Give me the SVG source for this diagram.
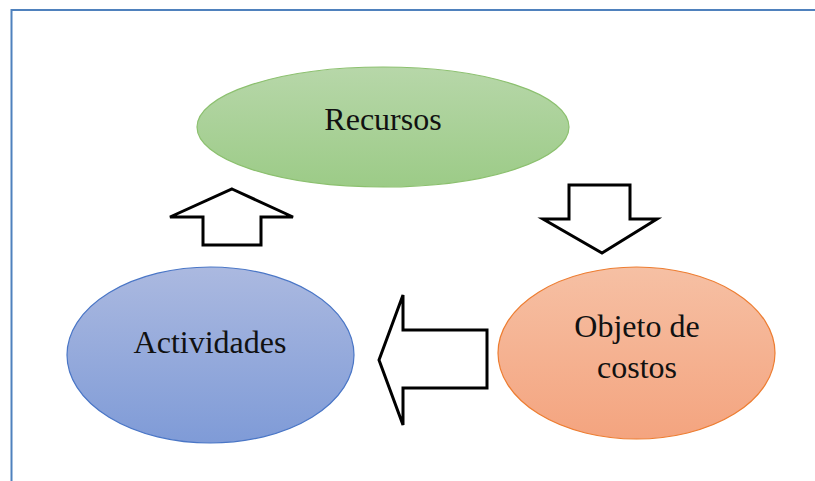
<svg xmlns="http://www.w3.org/2000/svg" width="815" height="481" viewBox="0 0 815 481">
  <defs>
    <linearGradient id="gGreen" x1="0" y1="0" x2="0" y2="1">
      <stop offset="0" stop-color="#b7d7a9"/>
      <stop offset="1" stop-color="#9ccb87"/>
    </linearGradient>
    <linearGradient id="gBlue" x1="0" y1="0" x2="0" y2="1">
      <stop offset="0" stop-color="#abb9e0"/>
      <stop offset="1" stop-color="#7f9bd7"/>
    </linearGradient>
    <linearGradient id="gOrange" x1="0" y1="0" x2="0" y2="1">
      <stop offset="0" stop-color="#f6c0a4"/>
      <stop offset="1" stop-color="#f4a47f"/>
    </linearGradient>
  </defs>
  <style>
    .lbl { font-family: "Liberation Serif", "Times New Roman", serif; font-size: 32px; fill: #111; text-anchor: middle; }
    .arrow { fill: #ffffff; stroke: #000000; stroke-width: 3; stroke-linejoin: miter; }
    .frame { fill: none; stroke: #4f81bd; stroke-width: 2; }
  </style>
  <rect width="815" height="481" fill="#ffffff"/>
  <path class="frame" d="M11.5,481 V10 H815"/>

  <g id="connectors">
    <polygon id="arrow-up" class="arrow" points="232,189 293,217 261,217 261,245 203,245 203,217 170,217"/>
    <polygon id="arrow-down" class="arrow" points="569,185 630,185 630,219 657,219 602,253 543,219 569,219"/>
    <polygon id="arrow-left" class="arrow" points="379,360 403,295 403,330 487,330 487,388 403,388 403,425"/>
  </g>

  <g id="node-recursos">
    <ellipse cx="383" cy="127" rx="186" ry="60" fill="url(#gGreen)" stroke="#8cc06f" stroke-width="1.2"/>
    <text class="lbl" x="383" y="130">Recursos</text>
  </g>

  <g id="node-actividades">
    <ellipse cx="210.5" cy="355" rx="143.5" ry="88" fill="url(#gBlue)" stroke="#4a76c6" stroke-width="1.2"/>
    <text class="lbl" x="210" y="353">Actividades</text>
  </g>

  <g id="node-objeto">
    <ellipse cx="636.5" cy="353" rx="138.5" ry="86" fill="url(#gOrange)" stroke="#ed7d31" stroke-width="1.2"/>
    <text class="lbl" x="637" y="337">Objeto de</text>
    <text class="lbl" x="637" y="378">costos</text>
  </g>
</svg>
